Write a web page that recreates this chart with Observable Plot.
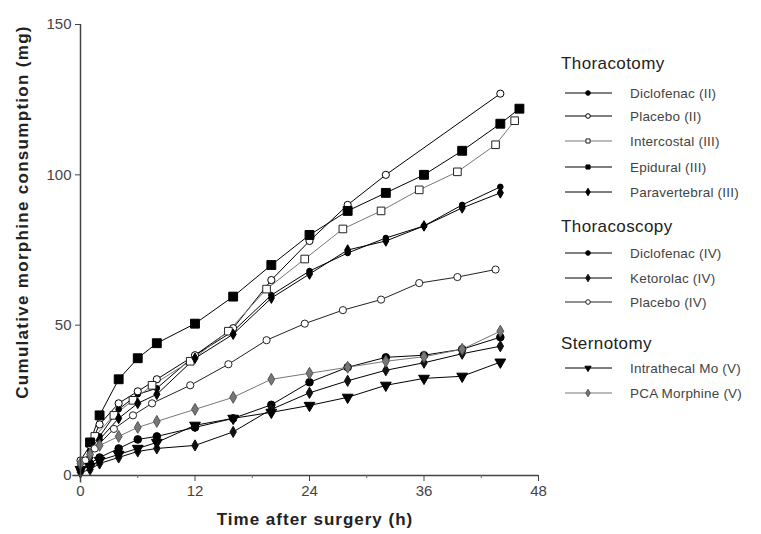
<!DOCTYPE html>
<html><head><meta charset="utf-8">
<script src="https://cdn.jsdelivr.net/npm/d3@7"></script>
<script src="https://cdn.jsdelivr.net/npm/@observablehq/plot@0.6"></script>
<style>body{margin:0;background:#fff}</style>
</head><body><div id="chart"></div>
<script>
// ---- data (hours after surgery, cumulative morphine mg) ----
const tDicloII = [0, 1, 2, 4, 6, 8, 12, 16, 20, 24, 28, 32, 36, 40, 44];
const yDicloII = [3, 8, 13, 22, 27, 29, 40, 48, 60, 68, 74, 79, 83, 90, 96];
const tPlaceboII = [0, 1, 2, 4, 6, 8, 12, 16, 20, 24, 28, 32, 44];
const yPlaceboII = [5, 10, 17, 24, 28, 32, 40, 49, 65, 78, 90, 100, 127];
const tIntercostal = [0.5, 1.5, 3.5, 5.5, 7.5, 11.5, 15.5, 19.5, 23.5, 27.5, 31.5, 35.5, 39.5, 43.5, 45.5];
const yIntercostal = [4, 13, 20, 25, 30, 38, 48, 62, 72, 82, 88, 95, 101, 110, 118];
const tEpidural = [1, 2, 4, 6, 8, 12, 16, 20, 24, 28, 32, 36, 40, 44, 46];
const yEpidural = [11, 20, 32, 39, 44, 50.5, 59.5, 70, 80, 88, 94, 100, 108, 117, 122];
const tParavert = [0, 1, 2, 4, 6, 8, 12, 16, 20, 24, 28, 32, 36, 40, 44];
const yParavert = [2, 6, 12, 19, 24, 27, 39, 47, 59, 67, 75, 78, 83, 89, 94];
const tDicloIV = [0, 1, 2, 4, 6, 8, 12, 16, 20, 24, 28, 32, 36, 40, 44];
const yDicloIV = [2, 4, 6, 9, 12, 13, 16, 19, 23.5, 31, 36, 39.3, 40, 42, 46];
const tKetorolac = [0, 1, 2, 4, 6, 8, 12, 16, 20, 24, 28, 32, 36, 40, 44];
const yKetorolac = [1, 2, 4, 6, 8, 9, 10, 14.5, 22, 27.5, 31.5, 35, 37.5, 40.5, 43];
const tPlaceboIV = [0.5, 1.5, 3.5, 5.5, 7.5, 11.5, 15.5, 19.5, 23.5, 27.5, 31.5, 35.5, 39.5, 43.5];
const yPlaceboIV = [5, 9, 15.5, 20, 24, 30, 37, 45, 50.5, 55, 58.5, 64, 66, 68.5];
const tIntrathecal = [0, 1, 2, 4, 6, 8, 12, 16, 20, 24, 28, 32, 36, 40, 44];
const yIntrathecal = [2, 3, 5, 7, 9, 11, 16.7, 19, 21, 23.3, 26, 30, 32.3, 33, 37.7];
const tPCA = [0, 1, 2, 4, 6, 8, 12, 16, 20, 24, 28, 32, 36, 40, 44];
const yPCA = [4, 7, 10, 13, 16, 18, 22, 26, 32, 34, 36, 38, 39.5, 42, 48];

const xTicks = [0, 12, 24, 36, 48];
const xMinorTicks = [6, 18, 30, 42];
const yTicks = [0, 50, 100, 150];

// custom downward triangle symbol
const triangleDown = {
  draw(ctx, size) {
    const a = Math.sqrt(4 * size / Math.sqrt(3));
    const h = a * Math.sqrt(3) / 2;
    ctx.moveTo(0, 2 * h / 3);
    ctx.lineTo(a / 2, -h / 3);
    ctx.lineTo(-a / 2, -h / 3);
    ctx.closePath();
  }
};

const series = [
  {group: "Thoracotomy", name: "Diclofenac (II)", t: tDicloII, y: yDicloII, symbol: "circle", fill: "#000", stroke: "#000", line: "#000", r: 2.8},
  {group: "Thoracotomy", name: "Placebo (II)", t: tPlaceboII, y: yPlaceboII, symbol: "circle", fill: "#fff", stroke: "#000", line: "#000", r: 3.6},
  {group: "Thoracotomy", name: "Intercostal (III)", t: tIntercostal, y: yIntercostal, symbol: "square", fill: "#fff", stroke: "#222", line: "#777", r: 4.3},
  {group: "Thoracotomy", name: "Epidural (III)", t: tEpidural, y: yEpidural, symbol: "square", fill: "#000", stroke: "#000", line: "#000", r: 5},
  {group: "Thoracotomy", name: "Paravertebral (III)", t: tParavert, y: yParavert, symbol: "diamond", fill: "#000", stroke: "#000", line: "#000", r: 3.2},
  {group: "Thoracoscopy", name: "Diclofenac (IV)", t: tDicloIV, y: yDicloIV, symbol: "circle", fill: "#000", stroke: "#000", line: "#000", r: 3.8},
  {group: "Thoracoscopy", name: "Ketorolac (IV)", t: tKetorolac, y: yKetorolac, symbol: "diamond", fill: "#111", stroke: "#111", line: "#000", r: 3.4},
  {group: "Thoracoscopy", name: "Placebo (IV)", t: tPlaceboIV, y: yPlaceboIV, symbol: "circle", fill: "#fff", stroke: "#222", line: "#222", r: 3.6},
  {group: "Sternotomy", name: "Intrathecal Mo (V)", t: tIntrathecal, y: yIntrathecal, symbol: triangleDown, fill: "#000", stroke: "#000", line: "#000", r: 4},
  {group: "Sternotomy", name: "PCA Morphine (V)", t: tPCA, y: yPCA, symbol: "diamond", fill: "#777", stroke: "#555", line: "#777", r: 3.6}
];

const rows = series.flatMap(s => s.t.map((t, i) => ({name: s.name, t, v: s.y[i]})));

const lineMarks = series.map(s => Plot.line(rows.filter(d => d.name === s.name), {x: "t", y: "v", stroke: s.line, strokeWidth: 1}));
const dotMarks = series.map(s => Plot.dot(rows.filter(d => d.name === s.name), {x: "t", y: "v", symbol: () => s.symbol, r: s.r, fill: s.fill, stroke: s.stroke, strokeWidth: 1}));

const chart = Plot.plot({
  width: 761, height: 534,
  marginLeft: 80, marginRight: 223, marginTop: 24, marginBottom: 59,
  style: {fontFamily: "Liberation Sans, Arial, sans-serif", fontSize: "12px", background: "#fff"},
  x: {domain: [0, 48]},
  y: {domain: [0, 150]},
  symbol: {type: "identity"},
  marks: [
    ...lineMarks,
    ...dotMarks,
    Plot.ruleX([0], {y1: -2.5, y2: 150, stroke: "#444", strokeWidth: 1.5}),
    Plot.ruleY([0], {x1: -0.8, x2: 48, stroke: "#444", strokeWidth: 1.5}),
    Plot.axisX({ticks: xTicks, tickSize: 6, tickPadding: 4, fontSize: 15, fill: "#444", stroke: "#444", label: null}),
    Plot.axisX({ticks: xMinorTicks, tickSize: 3, tickFormat: () => "", stroke: "#666", label: null}),
    Plot.axisY({ticks: yTicks, tickSize: 5, tickPadding: 4, fontSize: 15, fill: "#444", stroke: "#444", label: null})
  ]
});
document.getElementById("chart").appendChild(chart);

// axis titles and legend (annotation layer)
const svg = d3.select(chart);
svg.append("text").attr("x", 315).attr("y", 525).attr("text-anchor", "middle")
  .attr("font-weight", "bold").attr("font-size", 17).attr("letter-spacing", 1).attr("fill", "#222").text("Time after surgery (h)");
svg.append("text").attr("transform", "translate(28,212) rotate(-90)").attr("text-anchor", "middle")
  .attr("font-weight", "bold").attr("font-size", 17).attr("letter-spacing", 1.3).attr("fill", "#222").text("Cumulative morphine consumption (mg)");

const legendY = {"Thoracotomy": 63, "Thoracoscopy": 226, "Sternotomy": 343};
const entryY = [93, 116, 141, 167, 192, 253, 278, 302, 368, 393];
const lg = svg.append("g").attr("text-anchor", "start");
Object.entries(legendY).forEach(([g, y]) => {
  lg.append("text").attr("x", 561).attr("y", y).attr("dy", "0.35em").attr("text-anchor", "start")
    .attr("font-size", 17).attr("letter-spacing", 0.4).attr("fill", "#222").text(g);
});
series.forEach((s, i) => {
  const y = entryY[i];
  lg.append("line").attr("x1", 565).attr("x2", 612).attr("y1", y).attr("y2", y).attr("stroke", s.line).attr("stroke-width", 1);
  const type = typeof s.symbol === "string" ? {circle: d3.symbolCircle, square: d3.symbolSquare, diamond: d3.symbolDiamond}[s.symbol] : s.symbol;
  lg.append("path").attr("transform", `translate(588,${y})`).attr("d", d3.symbol(type, Math.PI * 2.3 * 2.3)())
    .attr("fill", s.fill).attr("stroke", s.stroke);
  lg.append("text").attr("x", 630).attr("y", y).attr("dy", "0.35em").attr("text-anchor", "start")
    .attr("font-size", 13.5).attr("letter-spacing", 0.2).attr("fill", "#444").text(s.name);
});
</script></body></html>
